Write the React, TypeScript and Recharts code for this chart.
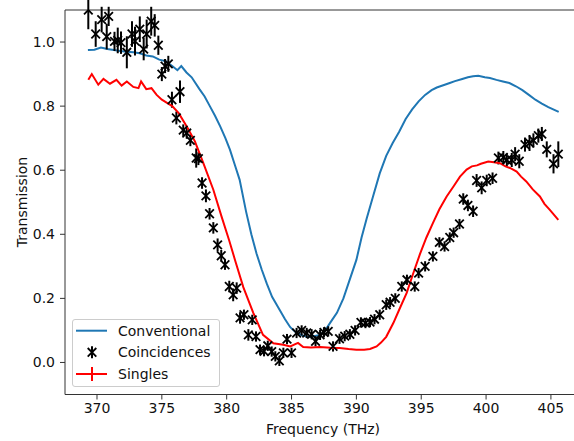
import React from 'react';
import { ComposedChart, Line, Scatter, ErrorBar, XAxis, YAxis, ReferenceLine, Legend, Label } from 'recharts';

const FONT = '"DejaVu Sans", sans-serif';

const COLORS = {
  conventional: '#1f77b4', // matplotlib C0
  singles: '#ff0000',
  coincidences: '#000000',
  axis: '#333333',
  text: '#111111',
};

// Conventional transmission (line)
const convFreq = [
  369.3, 369.8, 370.3, 370.8, 371.3, 371.8, 372.3, 372.8, 373.3, 373.8, 374.3, 374.8, 375.3, 375.8,
  376.2, 376.5, 376.9, 377.3, 377.9, 378.3, 378.7, 379.1, 379.5, 379.9, 380.25, 380.6, 381.0, 381.5,
  381.9, 382.3, 382.7, 383.1, 383.5, 384.0, 384.5, 384.9, 385.3, 385.8, 386.2, 386.7, 387.2, 387.6,
  388.0, 388.5, 389.0, 389.5, 390.0, 390.4, 390.8, 391.3, 391.8, 392.3, 392.8, 393.3, 393.8, 394.3,
  394.8, 395.3, 395.8, 396.2, 396.7, 397.2, 397.6, 398.1, 398.6, 399.0, 399.4, 399.9, 400.3, 400.8,
  401.3, 401.8, 402.3, 402.8, 403.3, 403.8, 404.3, 404.8, 405.6,
];
const convValue = [
  0.975, 0.976, 0.983, 0.978, 0.975, 0.972, 0.97, 0.968, 0.965, 0.958, 0.955, 0.945, 0.94, 0.925,
  0.912, 0.925, 0.905, 0.89, 0.853, 0.83, 0.8, 0.77, 0.737, 0.7, 0.664, 0.62, 0.57, 0.47,
  0.4, 0.34, 0.29, 0.245, 0.205, 0.17, 0.135, 0.11, 0.095, 0.085, 0.08, 0.082, 0.086, 0.1,
  0.125, 0.155, 0.2, 0.26, 0.32, 0.39, 0.45, 0.52, 0.59, 0.645, 0.685, 0.72, 0.76, 0.79,
  0.815, 0.835, 0.85, 0.858, 0.865, 0.872, 0.878, 0.884, 0.89, 0.893, 0.895, 0.89, 0.888, 0.882,
  0.877, 0.872, 0.862, 0.85, 0.835, 0.82, 0.808, 0.797, 0.782,
];

// Singles transmission (line)
const singlesFreq = [
  369.33, 369.6, 370.1, 370.5, 371.0, 371.5, 371.9, 372.3, 372.8, 373.2, 373.4, 373.8, 374.2, 374.6,
  375.0, 375.4, 375.8, 376.3, 377.0, 377.55, 378.2, 378.97, 379.6, 380.2, 380.64, 381.28, 382.05, 382.8,
  383.6, 384.36, 384.9, 385.5, 385.9, 386.5, 387.2, 388.0, 388.7, 389.4, 390.0, 390.6, 391.05, 391.56,
  391.9, 392.3, 392.85, 393.36, 393.88, 394.4, 394.9, 395.4, 395.9, 396.4, 396.96, 397.5, 397.99, 398.5,
  398.9, 399.3, 399.6, 400.17, 400.6, 401.07, 401.5, 401.84, 402.36, 402.7, 403.1, 403.6, 404.15, 404.5,
  404.9, 405.57,
];
const singlesValue = [
  0.882, 0.9, 0.867, 0.885, 0.87, 0.882, 0.864, 0.877, 0.86, 0.856, 0.877, 0.853, 0.856, 0.835,
  0.82, 0.81, 0.8, 0.778, 0.731, 0.69, 0.622, 0.539, 0.456, 0.38, 0.32, 0.235, 0.155, 0.086,
  0.06, 0.055, 0.05, 0.061, 0.048, 0.047, 0.048, 0.046, 0.045, 0.042, 0.04, 0.04, 0.042, 0.05,
  0.062, 0.08, 0.123, 0.17, 0.217, 0.28, 0.338, 0.39, 0.435, 0.478, 0.518, 0.55, 0.58, 0.602,
  0.612, 0.615, 0.62, 0.627, 0.625, 0.622, 0.612, 0.607, 0.596, 0.58, 0.565, 0.54, 0.518, 0.495,
  0.477, 0.445,
];

// Coincidences (x markers with vertical error bars)
const coincFreq = [
  369.33, 369.9, 370.36, 370.75, 370.9, 371.35, 371.6, 371.85, 372.3, 372.7, 372.93, 373.3, 373.6, 373.83,
  374.18, 374.45, 374.73, 375.0, 375.25, 375.5, 375.78, 376.12, 376.4, 376.65, 376.92, 377.2, 377.65, 377.82,
  378.1, 378.4, 378.68, 378.97, 379.3, 379.58, 379.87, 380.2, 380.5, 380.77, 381.03, 381.33, 381.67, 381.97,
  382.26, 382.57, 382.88, 383.17, 383.47, 383.75, 384.06, 384.37, 384.65, 385.0, 385.39, 385.78, 386.17, 386.55,
  386.85, 387.2, 387.5, 387.83, 388.2, 388.7, 389.1, 389.5, 389.9, 390.35, 390.7, 391.05, 391.4, 391.8,
  392.3, 392.6, 393.0, 393.5, 393.9, 394.5, 394.8, 395.3, 395.9, 396.4, 396.8, 397.2, 397.5, 397.95,
  398.24, 398.6, 399.0, 399.27, 399.66, 400.05, 400.5, 400.95, 401.33, 401.6, 401.98, 402.24, 402.56, 403.0,
  403.35, 403.65, 404.03, 404.3, 404.68, 405.2, 405.57,
];
const coincValue = [
  1.1, 1.025, 1.07, 1.017, 1.08, 1.002, 1.005, 0.998, 0.968, 1.025, 1.003, 1.04, 0.978, 1.025,
  1.065, 1.052, 0.99, 0.9, 0.925, 0.932, 0.82, 0.763, 0.845, 0.725, 0.716, 0.693, 0.638, 0.636,
  0.56, 0.52, 0.464, 0.42, 0.367, 0.333, 0.305, 0.237, 0.211, 0.232, 0.139, 0.149, 0.086, 0.133,
  0.081, 0.04, 0.035, 0.052, 0.034, 0.019, 0.005, 0.03, 0.073, 0.03, 0.092, 0.1, 0.092, 0.088,
  0.066, 0.086, 0.094, 0.097, 0.05, 0.074, 0.082, 0.088, 0.1, 0.125, 0.123, 0.126, 0.135, 0.149,
  0.18, 0.188, 0.2, 0.237, 0.258, 0.237, 0.279, 0.3, 0.331, 0.375, 0.362, 0.39, 0.405, 0.432,
  0.51, 0.49, 0.472, 0.568, 0.545, 0.568, 0.575, 0.638, 0.64, 0.632, 0.632, 0.65, 0.628, 0.68,
  0.685, 0.693, 0.708, 0.713, 0.665, 0.62, 0.65,
];
const coincError = [
  0.06, 0.04, 0.04, 0.04, 0.03, 0.03, 0.04, 0.035, 0.05, 0.04, 0.045, 0.04, 0.035, 0.045,
  0.045, 0.035, 0.03, 0.022, 0.022, 0.025, 0.025, 0.02, 0.035, 0.018, 0.018, 0.018, 0.03, 0.02,
  0.018, 0.02, 0.018, 0.018, 0.02, 0.018, 0.016, 0.018, 0.02, 0.018, 0.018, 0.016, 0.018, 0.016,
  0.016, 0.016, 0.016, 0.016, 0.016, 0.016, 0.016, 0.016, 0.016, 0.016, 0.016, 0.016, 0.016, 0.016,
  0.016, 0.016, 0.016, 0.016, 0.016, 0.016, 0.016, 0.016, 0.016, 0.016, 0.016, 0.016, 0.016, 0.016,
  0.016, 0.016, 0.016, 0.016, 0.016, 0.016, 0.016, 0.016, 0.016, 0.016, 0.016, 0.016, 0.016, 0.016,
  0.018, 0.018, 0.018, 0.02, 0.02, 0.018, 0.018, 0.02, 0.02, 0.02, 0.022, 0.022, 0.022, 0.022,
  0.025, 0.022, 0.022, 0.022, 0.025, 0.03, 0.04,
];

const xTicks = [370, 375, 380, 385, 390, 395, 400, 405];
const yTicks = [0.0, 0.2, 0.4, 0.6, 0.8, 1.0];

const convData = convFreq.map((f, i) => ({ f, v: convValue[i] }));
const singlesData = singlesFreq.map((f, i) => ({ f, v: singlesValue[i] }));
const coincData = coincFreq.map((f, i) => ({ f, v: coincValue[i], err: coincError[i] }));

const tickStyle = { fontFamily: FONT, fontSize: 14, fill: COLORS.text };

const XMarker = (props: any) => {
  const { cx, cy } = props;
  if (cx == null || cy == null) return null;
  const r = 4.3;
  return (
    <g stroke={COLORS.coincidences} strokeWidth={1.8}>
      <line x1={cx - r} y1={cy - r} x2={cx + r} y2={cy + r} />
      <line x1={cx - r} y1={cy + r} x2={cx + r} y2={cy - r} />
    </g>
  );
};

// matplotlib-style legend box, drawn by hand
const renderLegend = () => {
  const rows = [11.7, 33.3, 55];
  return (
    <div
      style={{
        width: 148,
        height: 68,
        background: 'rgba(255,255,255,0.8)',
        border: '1px solid #cccccc',
        borderRadius: 3,
        boxSizing: 'border-box',
      }}
    >
      <svg width={146} height={66} style={{ display: 'block' }}>
        <line x1={3} x2={34} y1={rows[0] - 1} y2={rows[0] - 1} stroke={COLORS.conventional} strokeWidth={2} />
        <line x1={19} x2={19} y1={rows[1] - 7} y2={rows[1] + 5} stroke={COLORS.coincidences} strokeWidth={2} />
        <XMarker cx={19} cy={rows[1] - 1} />
        <line x1={3} x2={34} y1={rows[2] - 1} y2={rows[2] - 1} stroke={COLORS.singles} strokeWidth={2} />
        <line x1={19} x2={19} y1={rows[2] - 8} y2={rows[2] + 6} stroke={COLORS.singles} strokeWidth={2} />
        {['Conventional', 'Coincidences', 'Singles'].map((name, i) => (
          <text key={name} x={45} y={rows[i] + 4} fontFamily={FONT} fontSize={14} fill={COLORS.text}>
            {name}
          </text>
        ))}
      </svg>
    </div>
  );
};

export default function App() {
  return (
    <div style={{ position: 'absolute', left: 0, top: 0, width: 574, height: 441, background: '#fff' }}>
      <ComposedChart width={574} height={441} margin={{ top: 10, right: 0, bottom: 0, left: 0 }}>
        <XAxis
          dataKey="f"
          type="number"
          domain={[367.533, 406.78]}
          ticks={xTicks}
          allowDataOverflow
          height={46.5}
          tickSize={5}
          tickMargin={4}
          tick={tickStyle}
          axisLine={{ stroke: COLORS.axis, strokeWidth: 1 }}
          tickLine={{ stroke: COLORS.axis, strokeWidth: 1 }}
        >
          <Label
            content={() => (
              <text x={323} y={433.5} textAnchor="middle" fontFamily={FONT} fontSize={14} fill={COLORS.text}>
                Frequency (THz)
              </text>
            )}
          />
        </XAxis>
        <YAxis
          type="number"
          domain={[-0.1, 1.1]}
          ticks={yTicks}
          allowDataOverflow
          width={65}
          tickSize={5}
          tickMargin={5}
          tick={tickStyle}
          tickFormatter={(v: number) => v.toFixed(1)}
          axisLine={{ stroke: COLORS.axis, strokeWidth: 1 }}
          tickLine={{ stroke: COLORS.axis, strokeWidth: 1 }}
        >
          <Label
            content={() => (
              <text
                x={26.5}
                y={202}
                transform="rotate(-90 26.5 202)"
                textAnchor="middle"
                fontFamily={FONT}
                fontSize={14}
                fill={COLORS.text}
              >
                Transmission
              </text>
            )}
          />
        </YAxis>
        <ReferenceLine y={1.1} stroke={COLORS.axis} strokeWidth={1} />
        <Line
          data={convData}
          dataKey="v"
          type="linear"
          stroke={COLORS.conventional}
          strokeWidth={2}
          dot={false}
          isAnimationActive={false}
        />
        <Scatter data={coincData} dataKey="v" shape={<XMarker />} isAnimationActive={false}>
          <ErrorBar dataKey="err" direction="y" width={0} stroke={COLORS.coincidences} strokeWidth={2} />
        </Scatter>
        <Line
          data={singlesData}
          dataKey="v"
          type="linear"
          stroke={COLORS.singles}
          strokeWidth={2}
          dot={false}
          isAnimationActive={false}
        />
        <Legend
          content={renderLegend}
          layout="horizontal"
          verticalAlign="middle"
          align="center"
          wrapperStyle={{ left: 72, top: 319, width: 148, height: 68 }}
        />
      </ComposedChart>
    </div>
  );
}
